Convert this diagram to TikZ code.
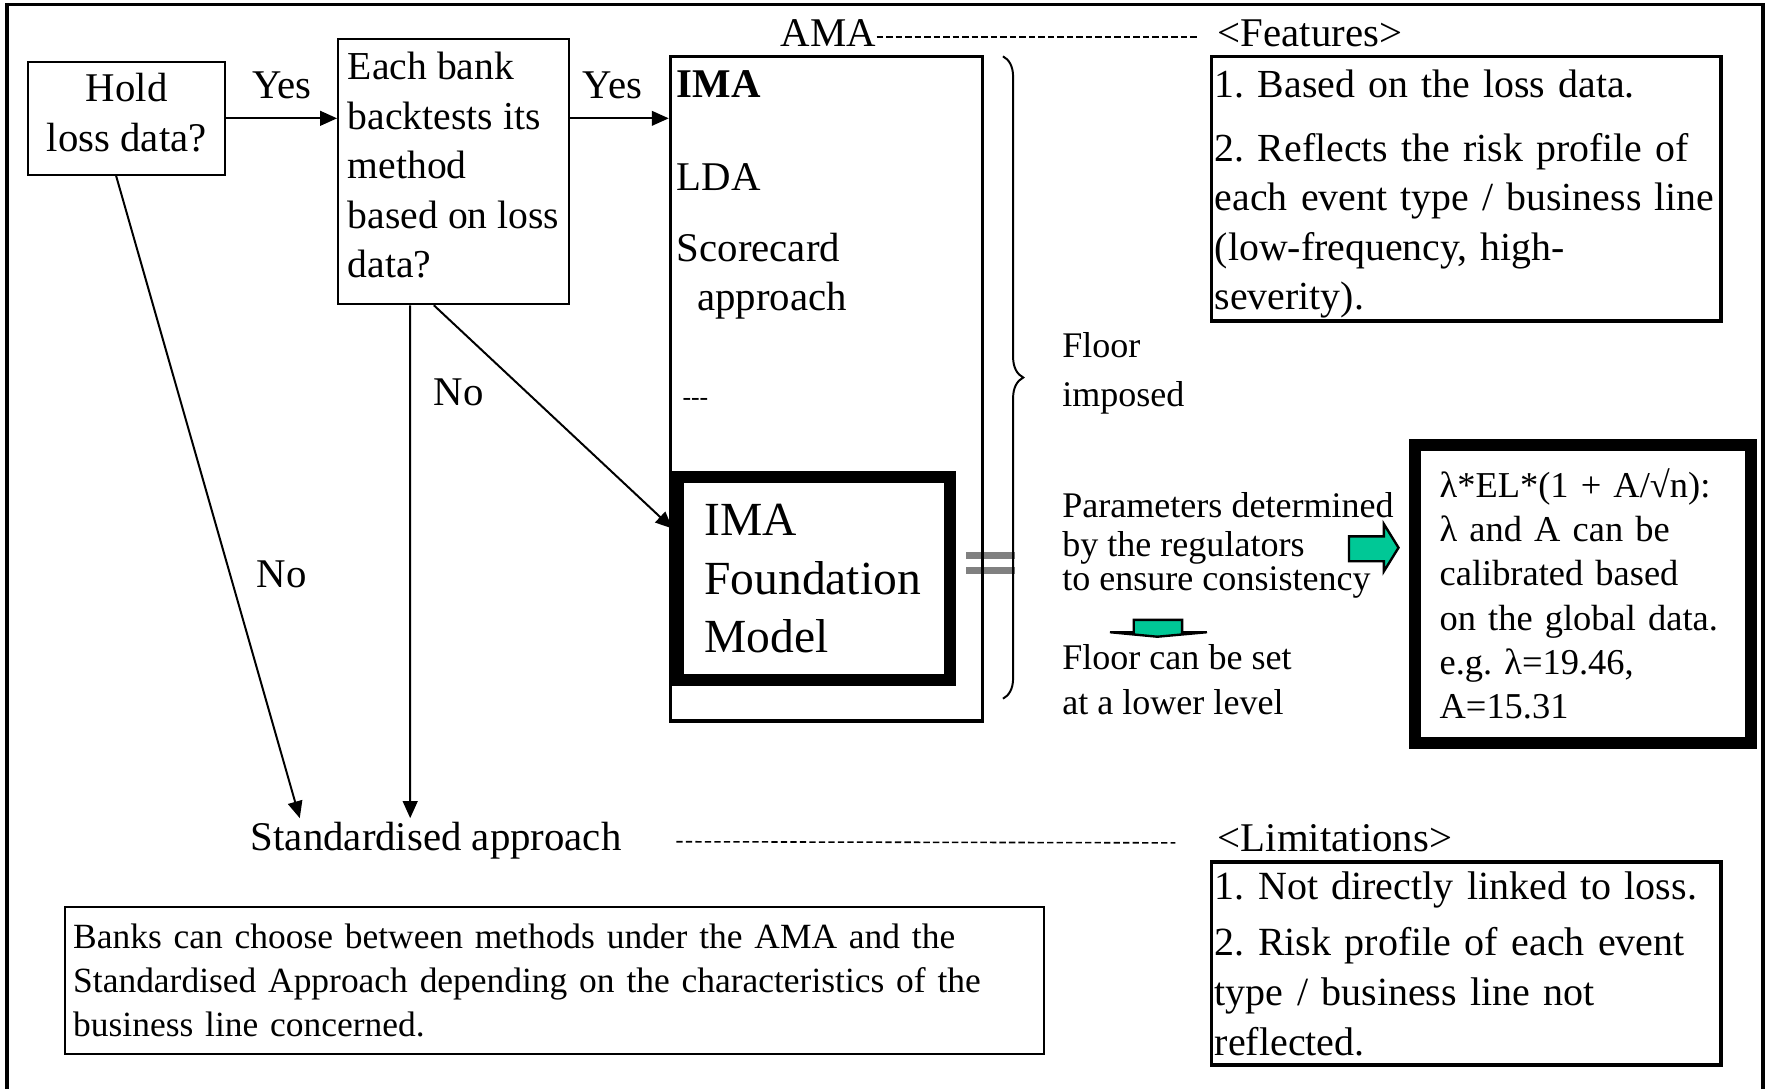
\documentclass[tikz,border=0pt]{standalone}
\usepackage{fontspec}
\setmainfont{Liberation Serif}
\usepackage{tikz}
\usetikzlibrary{positioning,arrows.meta,decorations.pathreplacing}
\definecolor{amagreen}{HTML}{00C896}
\definecolor{amagrey}{HTML}{808080}
\frenchspacing

\begin{document}
\begin{tikzpicture}[font=\fontsize{10.3}{12.5}\selectfont,
  bx/.style={draw=black, line width=0.5pt, align=left, inner xsep=0.6mm, inner ysep=0pt},
  heavy/.style={draw=black, line width=3pt, fill=white, align=left, inner ysep=0pt},
  txt/.style={inner sep=0pt, align=left},
  flow/.style={-{Triangle[length=1.5mm, width=1.3mm]}, line width=0.5pt},
  dashln/.style={line width=0.4pt, dash pattern=on 1.6pt off 0.8pt},
  sml/.style={font=\fontsize{8.95}{11.2}\selectfont},
  fat/.style={fill=amagreen, draw=black, line width=0.6pt, line join=miter}]
\useasboundingbox (0,0) rectangle (15.68,9.66);
% ===== frame =====
\draw[line width=1pt] (0.06,0) -- (0.06,9.62) -- (15.64,9.62) -- (15.64,0);
% ===== left: questions =====
\node[bx, align=center, text depth=3pt, minimum width=1.75cm, minimum height=1.0cm] (hold) at (1.125,8.61) {Hold\\loss data?};
\node[bx, text depth=3.4pt, minimum width=2.05cm, minimum height=2.35cm, font=\fontsize{10}{12.5}\selectfont] (bank) at (4.025,8.135) {Each bank\\backtests its\\method\\based on loss\\data?};
% ===== AMA column =====
\fill[amagrey] (8.57,4.70) rectangle (9.01,4.76);
\fill[amagrey] (8.57,4.57) rectangle (9.01,4.63);
\node[draw, line width=0.9pt, minimum width=2.77cm, minimum height=5.90cm] (ama) at (7.335,6.21) {};
\node[txt, anchor=base] (amalbl) at (7.35,9.25) {AMA};
\node[txt, anchor=west] (ima) at (6.00,8.91) {\bfseries IMA};
\node[txt, anchor=west] (lda) at (6.00,8.09) {LDA};
\node[txt, anchor=north west] (score) at (6.00,7.60) {Scorecard\\\hspace*{1.8mm}approach};
\node[txt, anchor=west, font=\fontsize{6.5}{8}\selectfont] (more) at (6.05,6.09) {-{}-{}-};
\node[heavy, text width=1.95cm, inner xsep=2.3mm, minimum height=1.80cm, font=\fontsize{12}{14.8}\selectfont] (fnd) at (7.225,4.525) {IMA\\Foundation\\Model};
\draw[line width=0.5pt, decorate, decoration={brace, amplitude=1.8mm}] (8.90,9.16) -- (8.90,3.46);
% ===== middle notes =====
\node[txt, anchor=north west, font=\fontsize{9.1}{12.5}\selectfont] (floor) at (9.42,6.72) {Floor\\imposed};
\node[txt, anchor=north west, font=\fontsize{9.1}{10}\selectfont] (param) at (9.42,5.30) {Parameters determined\\by the regulators\\[-1.5pt]to ensure consistency};
\node[txt, anchor=north west, font=\fontsize{9.1}{11.4}\selectfont] (lower) at (9.42,3.95) {Floor can be set\\at a lower level};
\draw[fat] (11.97,4.90) -- (12.28,4.90) -- (12.28,5.01) -- (12.41,4.80) -- (12.28,4.59) -- (12.28,4.68) -- (11.97,4.68) -- cycle;
\draw[fat] (10.06,4.16) -- (10.49,4.16) -- (10.49,4.05) -- (10.71,4.05) -- (10.27,4.01) -- (9.85,4.05) -- (10.06,4.05) -- cycle;
\node[heavy, text width=2.54cm, inner xsep=2.2mm, minimum height=2.65cm, font=\fontsize{9.2}{11.15}\selectfont] (lam) at (14.045,4.39) {λ*EL*(1 + A/√n):\\λ and A can be\\calibrated based\\on the global data.\\e.g. λ=19.46,\\A=15.31};
% ===== right: features / limitations =====
\node[txt, anchor=base west] (featlbl) at (10.80,9.25) {<Features>};
\node[bx, line width=0.9pt, inner xsep=0.3mm, text width=4.46cm, text height=9.7pt, minimum height=2.35cm, font=\fontsize{10.05}{12.5}\selectfont] (feat) at (13.01,7.985) {1. Based on the loss data.\\[3.6pt]2. Reflects the risk profile of\\each event type / business line\\(low-frequency, high-\\severity).};
\node[txt, anchor=base west] (limlbl) at (10.80,2.10) {<Limitations>};
\node[bx, line width=0.9pt, inner xsep=0.3mm, text width=4.46cm, minimum height=1.80cm, font=\fontsize{10.1}{12.6}\selectfont] (lim) at (13.01,1.11) {1. Not directly linked to loss.\\[1.6pt]2. Risk profile of each event\\type / business line not\\reflected.};
% ===== bottom =====
\node[txt, anchor=base west] (std) at (2.22,2.11) {Standardised approach};
\node[bx, sml, inner xsep=0.7mm, text width=8.54cm, minimum height=1.30cm] (banks) at (4.92,0.96) {Banks can choose between methods under the AMA and the\\Standardised Approach depending on the characteristics of the\\business line concerned.};
\coordinate (tipa) at (2.66,2.40);
\coordinate (tipb) at (3.64,2.40);
% ===== connectors =====
\draw[flow] (hold.east) -- node[txt, above=1.6mm] (yes1) {Yes} (bank.west |- hold.east);
\draw[flow] (bank.east |- hold.east) -- node[txt, pos=0.43, above=1.6mm] (yes2) {Yes} (ama.west |- hold.east);
\draw[flow] ([xshift=-0.95mm]hold.south) -- node[txt, pos=0.62, right=2.3mm] (no1) {No} (tipa);
\draw[flow] ([xshift=-3.85mm]bank.south) -- node[txt, pos=0.17, right=2mm] (no2) {No} (tipb);
\draw[flow] ([xshift=-1.75mm]bank.south) -- ([yshift=4.45mm]fnd.west);
\draw[dashln] (amalbl.mid east) -- ([xshift=-1.8mm]featlbl.mid west);
\draw[dashln] ([xshift=4.8mm]std.mid east) -- ([xshift=-3.7mm]limlbl.mid west);
\end{tikzpicture}
\end{document}
